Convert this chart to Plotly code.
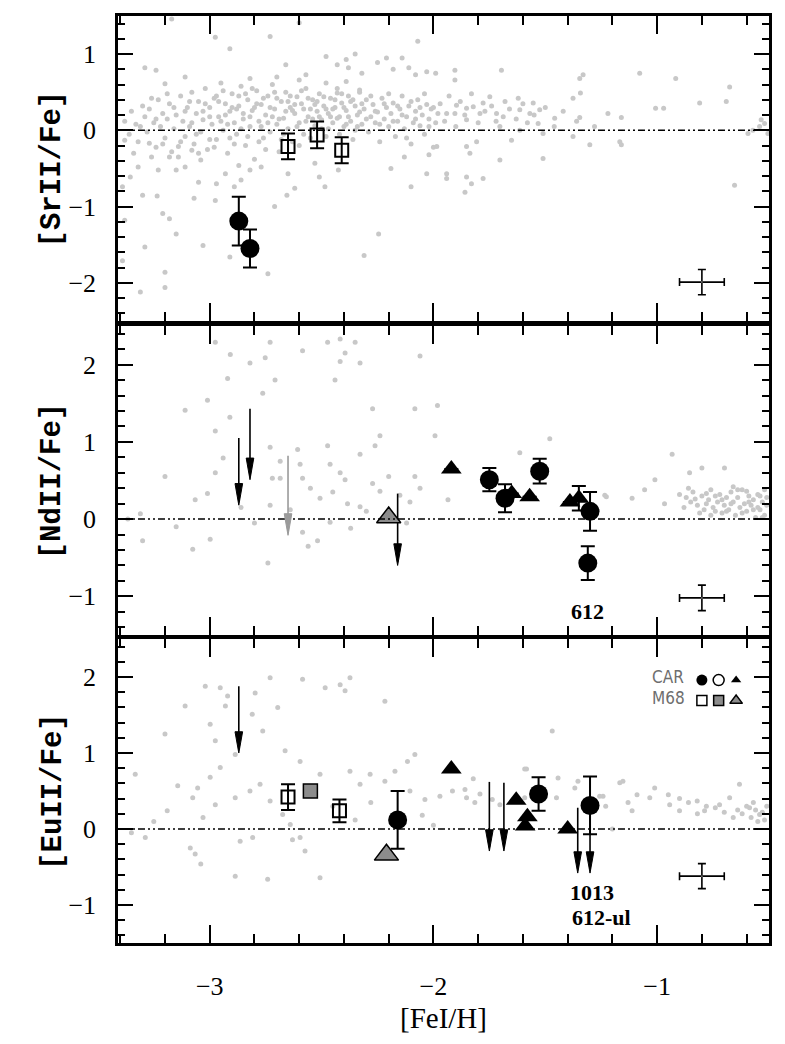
import plotly.graph_objects as go

# ======================= DATA =======================
# ---- literature (gray) stars : [SrII/Fe] panel ----
sr_bg = [
    (-3.38, 0.12), (-3.36, -0.05), (-3.35, 0.25), (-3.33, 0.08), (-3.32, -0.15), (-3.30, 0.32), (-3.29, 0.18),
    (-3.28, -0.02), (-3.27, 0.28), (-3.25, 0.10), (-3.24, -0.22), (-3.23, 0.40), (-3.22, 0.05), (-3.21, 0.22),
    (-3.20, -0.10), (-3.19, 0.15), (-3.18, 0.35), (-3.17, -0.28), (-3.16, 0.02), (-3.15, 0.20), (-3.14, -0.35),
    (-3.13, 0.45), (-3.12, 0.12), (-3.11, -0.08), (-3.10, 0.30), (-3.09, 0.05), (-3.08, 0.50), (-3.07, -0.18),
    (-3.06, 0.22), (-3.05, 0.38), (-3.04, -0.02), (-3.03, 0.14), (-3.02, 0.55), (-3.01, -0.25), (-3.00, 0.30),
    (-2.99, 0.08), (-2.98, 0.42), (-2.97, -0.12), (-2.96, 0.18), (-2.95, 0.62), (-2.94, 0.00), (-2.93, 0.35),
    (-2.92, -0.30), (-2.91, 0.25), (-2.90, 0.48), (-2.89, 0.10), (-2.88, -0.05), (-2.87, 0.32), (-2.86, 0.58),
    (-2.85, 0.15), (-2.84, -0.20), (-2.83, 0.40), (-2.82, 0.05), (-2.81, 0.26), (-2.80, -0.38), (-2.79, 0.52),
    (-2.78, 0.12), (-2.77, 0.34), (-2.76, -0.10), (-2.75, 0.20), (-2.74, 0.45), (-2.73, -0.02), (-2.72, 0.60),
    (-2.71, 0.28), (-2.70, 0.08), (-2.69, -0.28), (-2.68, 0.38), (-2.67, 0.16), (-2.66, 0.50), (-2.65, 0.02),
    (-2.64, 0.30), (-2.63, -0.15), (-2.62, 0.22), (-2.61, 0.44), (-2.60, 0.10), (-2.59, 0.35), (-2.58, -0.05),
    (-2.57, 0.55), (-2.56, 0.18), (-2.55, 0.28), (-2.54, 0.40), (-2.53, 0.06), (-2.52, 0.25), (-2.51, 0.48),
    (-2.50, 0.14), (-2.49, 0.32), (-2.48, -0.08), (-2.47, 0.22), (-2.46, 0.42), (-2.45, 0.10), (-2.44, 0.30),
    (-2.43, 0.55), (-2.42, 0.18), (-2.41, 0.36), (-2.40, 0.05), (-2.39, 0.26), (-2.38, 0.45), (-2.37, 0.12),
    (-2.36, -0.12), (-2.35, 0.32), (-2.34, 0.20), (-2.33, 0.50), (-2.32, 0.08), (-2.31, 0.28), (-2.30, 0.40),
    (-2.29, -0.02), (-2.28, 0.18), (-2.27, 0.34), (-2.26, 0.10), (-2.25, 0.24), (-2.24, -0.15), (-2.23, 0.42),
    (-2.22, 0.15), (-2.21, 0.30), (-2.20, 0.05), (-2.19, 0.22), (-2.18, 0.36), (-2.17, -0.08), (-2.16, 0.12),
    (-2.15, 0.28), (-2.14, 0.45), (-2.13, 0.02), (-2.12, 0.18), (-2.11, 0.32), (-2.10, -0.18), (-2.09, 0.10),
    (-2.08, 0.25), (-2.07, 0.40), (-2.06, 0.06), (-2.05, 0.20), (-2.04, -0.05), (-2.03, 0.34), (-2.02, 0.15),
    (-2.01, 0.28), (-2.00, -0.22), (-1.99, 0.10), (-1.98, 0.22),
    (-3.09, 0.38), (-3.06, -0.05), (-3.03, 0.25), (-3.00, -0.12), (-2.97, 0.45), (-2.95, 0.12), (-2.93, 0.20),
    (-2.91, -0.10), (-2.88, 0.28), (-2.86, 0.02), (-2.84, 0.48), (-2.82, 0.18), (-2.80, 0.30), (-2.78, -0.15),
    (-2.76, 0.42), (-2.74, 0.10), (-2.71, 0.50), (-2.69, 0.15), (-2.67, -0.05), (-2.65, 0.38), (-2.63, 0.26),
    (-2.61, 0.05), (-2.59, 0.52), (-2.57, 0.12), (-2.55, -0.10), (-2.53, 0.34), (-2.51, 0.18), (-2.49, 0.44),
    (-2.47, 0.02), (-2.45, 0.28), (-2.43, 0.16), (-2.41, 0.48), (-2.39, 0.08), (-2.37, 0.38), (-2.35, 0.00),
    (-2.33, 0.24),
    (-3.31, 0.05), (-3.26, 0.42), (-3.24, 0.15), (-3.21, -0.18), (-3.19, 0.48), (-3.16, 0.30), (-3.13, -0.15),
    (-3.11, 0.25), (-3.08, 0.10), (-3.05, -0.30), (-3.02, 0.35), (-3.00, 0.18), (-2.98, -0.22), (-2.96, 0.38),
    (-2.94, 0.52), (-2.92, 0.08), (-2.90, 0.30), (-2.89, -0.18), (-2.87, 0.45), (-2.85, 0.22), (-2.83, -0.08),
    (-2.81, 0.55), (-2.79, 0.35), (-2.77, 0.05), (-2.75, -0.25), (-2.73, 0.30), (-2.72, 0.18), (-2.70, 0.42),
    (-2.68, -0.12), (-2.66, 0.25), (-2.64, 0.45), (-2.62, 0.34), (-2.60, -0.20), (-2.58, 0.28), (-2.56, 0.42),
    (-2.54, 0.15), (-2.52, 0.38), (-2.50, 0.02), (-2.48, 0.28), (-2.46, 0.18), (-2.44, 0.40), (-2.42, -0.05),
    (-2.40, 0.30), (-2.38, 0.18), (-2.36, 0.40), (-2.34, 0.05), (-2.32, 0.35), (-2.30, 0.15), (-2.28, 0.45),
    (-2.26, 0.25), (-2.24, 0.08), (-2.22, 0.35), (-2.20, 0.48), (-2.18, 0.12), (-2.16, 0.32), (-2.14, 0.20),
    (-2.12, -0.10), (-2.10, 0.38), (-2.08, 0.15), (-2.06, 0.30), (-2.04, 0.48), (-2.02, 0.05), (-2.00, 0.30),
    (-1.97, 0.35), (-1.95, 0.12), (-1.93, 0.45), (-1.90, 0.05), (-1.88, 0.38), (-1.86, 0.20), (-1.83, 0.48),
    (-1.80, 0.10), (-1.77, 0.25), (-1.74, 0.32), (-1.72, 0.12), (-1.68, 0.38), (-1.66, 0.28), (-1.63, 0.15),
    (-1.60, 0.35), (-1.58, 0.10), (-1.55, 0.20), (-1.50, 0.30), (-1.46, 0.05), (-1.42, 0.25), (-1.36, 0.12),
    (-1.28, 0.05),
    # sparse, below the solar line
    (-3.34, -0.30), (-3.32, -0.48), (-3.355, -0.61), (-3.30, -0.85), (-3.235, -0.86), (-3.21, -1.09),
    (-3.18, -1.16), (-3.15, -1.36), (-3.29, -1.53), (-3.20, -1.86), (-3.20, -2.06), (-3.31, -2.12),
    (-3.03, -1.51), (-3.07, -0.89), (-2.975, -0.92), (-2.91, -1.66), (-2.74, -1.88), (-2.71, -1.00),
    (-2.65, -0.57), (-2.62, -0.76), (-2.655, -0.85), (-2.53, -0.43), (-2.51, -0.61), (-2.485, -0.74),
    (-2.425, -0.52), (-2.245, -1.36), (-2.31, -1.64), (-2.19, -0.50), (-2.13, -0.35), (-2.10, -0.74),
    (-2.03, -0.57), (-2.02, -0.32), (-1.985, -0.21), (-2.97, -0.70), (-2.93, -0.57), (-2.89, -0.74),
    (-2.86, -0.65), (-2.82, -0.52), (-2.77, -0.48), (-2.87, -0.46), (-3.05, -0.68), (-3.04, -0.39),
    (-3.11, -0.48), (-3.15, -0.52), (-3.08, -0.26), (-3.14, -0.21), (-3.18, -0.35), (-3.23, -0.52),
    (-3.26, -0.35), (-3.27, -0.17), (-3.38, -0.13), (-3.39, -0.74), (-3.38, -1.18), (-3.39, -1.71),
    # sparse, above
    (-2.975, 1.22), (-2.91, 1.07), (-2.73, 1.23), (-3.17, 1.46), (-3.29, 0.82), (-3.24, 0.79), (-3.20, 0.61),
    (-3.11, 0.70), (-2.82, 0.68), (-2.66, 0.86), (-2.57, 0.73), (-2.48, 0.97), (-2.43, 0.86), (-2.39, 0.93),
    (-2.35, 1.00), (-2.38, 0.82), (-2.32, 0.75), (-2.25, 0.89), (-2.21, 0.95), (-2.18, 0.80), (-2.14, 0.95),
    (-2.11, 0.82), (-2.07, 1.17), (-2.08, 0.73), (-2.03, 0.77), (-1.99, 0.75), (-2.48, 0.62), (-2.43, 0.49),
    (-2.39, 0.64), (-2.33, 0.53), (-2.60, 0.66), (-2.70, 0.70), (-2.60, 1.41),
    # metal-rich side
    (-1.904, 0.79), (-1.904, 0.66), (-1.696, 0.79), (-1.331, 0.73), (-1.346, 0.68), (-1.078, 0.75),
    (-0.917, 0.68), (-0.676, 0.57), (-0.691, 0.38), (-0.81, 0.36), (-1.007, 0.29), (-0.971, 0.29),
    (-1.376, 0.42), (-1.343, 0.49), (-1.621, 0.42), (-1.614, 0.27), (-1.554, 0.36), (-1.525, 0.27),
    (-1.569, 0.22), (-1.748, 0.44), (-1.778, 0.36), (-1.822, 0.31), (-1.852, 0.29), (-1.897, 0.33),
    (-1.941, 0.22), (-1.904, 0.22), (-1.852, 0.14), (-1.792, 0.22), (-1.718, 0.22), (-1.688, 0.18),
    (-1.703, 0.05), (-1.651, -0.13), (-1.614, 0.00), (-1.532, 0.09), (-1.51, -0.04), (-1.458, 0.16),
    (-1.346, 0.17), (-1.22, 0.22), (-1.16, 0.17), (-1.376, -0.08), (-1.301, -0.19), (-1.167, -0.15),
    (-1.16, -0.19), (-1.51, -0.37), (-1.703, -0.39), (-1.852, -0.21), (-1.837, -0.30), (-1.807, -0.15),
    (-1.941, -0.57), (-1.941, -0.63), (-1.852, -0.61), (-1.83, -0.70), (-1.778, -0.63), (-1.859, -0.81),
    (-0.654, -0.72), (-0.542, 0.05), (-0.52, 0.09), (-0.572, 0.00), (-0.505, -0.04), (-0.594, -0.04),
    (-0.535, 0.14),
]

# ---- literature (gray) stars : [NdII/Fe] panel ----
nd_bg = [
    (-2.975, 2.29), (-2.908, 2.13), (-2.92, 1.82), (-3.01, 1.54), (-3.11, 1.41), (-2.91, 1.32), (-2.975, 1.14),
    (-2.94, 0.79), (-2.975, 0.60), (-3.01, 0.33), (-3.065, 0.25), (-3.076, -0.39), (-2.998, -0.26),
    (-3.30, -0.28), (-3.31, 0.07), (-3.366, 0.00), (-2.82, 2.02), (-2.73, 2.29), (-2.752, 2.09), (-2.763, 1.63),
    (-2.708, 1.80), (-2.73, 0.93), (-2.607, 0.90), (-2.685, 0.75), (-2.72, 0.53), (-2.73, 0.18), (-2.685, 0.53),
    (-2.596, 0.71), (-2.585, 0.53), (-2.55, 0.40), (-2.507, 0.27), (-2.585, -0.17), (-2.56, -0.35),
    (-2.518, -0.28), (-2.74, -0.57), (-2.585, 2.18), (-2.473, 2.29), (-2.417, 2.33), (-2.35, 2.29),
    (-2.395, 2.15), (-2.417, 2.04), (-2.328, 2.02), (-2.44, 1.80), (-2.473, 0.95), (-2.462, 0.71),
    (-2.417, 0.60), (-2.395, 0.51), (-2.384, 0.20), (-2.462, -0.04), (-2.328, 0.16), (-2.328, 0.84),
    (-2.272, 1.43), (-2.239, 1.08), (-2.261, 0.95), (-2.239, 0.36), (-2.272, 0.46), (-2.06, 2.11),
    (-2.083, 1.43), (-1.982, 1.47), (-1.993, 1.08), (-2.083, 0.55), (-2.06, 0.40), (-2.105, 0.22),
    (-2.15, 0.31), (-1.614, 0.86), (-1.48, 1.04), (-1.234, 0.31), (-1.112, 0.27), (-1.056, 0.38),
    (-1.01, 0.51), (-0.967, 0.20), (-0.933, 0.84), (-0.855, 0.60), (-0.80, 0.66), (-0.699, 0.66),
    (-1.935, 0.25), (-1.227, 0.29), (-3.20, 0.55), (-3.15, -0.10), (-2.86, 0.15), (-2.80, -0.05),
    (-2.64, 0.12), (-2.45, 0.35), (-2.37, -0.12), (-2.30, 0.10), (-2.20, 0.55), (-2.12, -0.05),
    (-0.87, 0.28), (-0.85, 0.22), (-0.84, 0.35), (-0.82, 0.18), (-0.80, 0.30), (-0.79, 0.12), (-0.77, 0.25),
    (-0.76, 0.38), (-0.75, 0.15), (-0.73, 0.22), (-0.72, 0.32), (-0.71, 0.08), (-0.70, 0.18), (-0.69, 0.28),
    (-0.68, 0.12), (-0.67, 0.35), (-0.66, 0.22), (-0.65, 0.05), (-0.64, 0.28), (-0.63, 0.15), (-0.62, 0.38),
    (-0.61, 0.20), (-0.60, 0.10), (-0.59, 0.30), (-0.58, 0.18), (-0.57, 0.25), (-0.56, 0.02), (-0.55, 0.32),
    (-0.54, 0.12), (-0.53, 0.22), (-0.52, 0.05), (-0.51, 0.28), (-0.86, 0.40), (-0.78, 0.20), (-0.74, 0.10),
    (-0.66, 0.42), (-0.60, 0.36), (-0.55, 0.15), (-0.52, 0.38), (-0.88, 0.15), (-0.83, 0.26), (-0.81, 0.08),
    (-0.78, 0.33), (-0.76, 0.05), (-0.74, 0.30), (-0.71, 0.25), (-0.69, 0.10), (-0.67, 0.20), (-0.64, 0.38),
    (-0.62, 0.08), (-0.59, 0.22), (-0.57, 0.12), (-0.54, 0.30), (-0.53, 0.02), (-0.51, 0.18), (-0.90, 0.32),
]

# ---- literature (gray) stars : [EuII/Fe] panel ----
eu_bg = [
    (-3.02, 1.88), (-2.953, 1.86), (-2.92, 1.75), (-2.73, 1.99), (-2.797, 1.79), (-2.585, 1.97), (-2.484, 1.86),
    (-2.417, 1.90), (-2.373, 1.99), (-2.395, 1.82), (-2.217, 1.68), (-3.11, 1.62), (-3.20, 1.25), (-2.93, 1.62),
    (-2.81, 1.51), (-2.763, 1.29), (-2.696, 1.60), (-2.998, 1.38), (-2.975, 1.16), (-2.886, 0.98),
    (-2.953, 0.81), (-2.998, 0.68), (-3.054, 0.54), (-3.333, 0.72), (-3.143, 0.57), (-3.076, 0.41),
    (-3.19, 0.24), (-3.03, 0.15), (-2.975, 0.32), (-2.886, 0.41), (-2.82, 0.50), (-2.775, 0.59), (-2.73, 0.37),
    (-2.674, 0.19), (-2.64, 0.06), (-2.596, -0.11), (-2.886, -0.62), (-2.741, -0.66), (-2.507, -0.64),
    (-3.04, -0.46), (-3.087, -0.25), (-3.065, -0.33), (-3.288, -0.11), (-2.864, -0.16), (-2.808, -0.11),
    (-2.63, -0.14), (-2.574, -0.29), (-2.663, 1.03), (-2.596, 0.89), (-2.507, 0.72), (-2.373, 0.76),
    (-2.328, 0.59), (-2.283, 0.72), (-2.217, 0.63), (-2.172, 0.76), (-2.116, 0.89), (-2.083, 0.98),
    (-2.105, 0.50), (-2.038, 0.39), (-1.971, 0.43), (-1.915, 0.50), (-1.859, 0.52), (-1.792, 0.46),
    (-1.737, 0.39), (-1.703, 0.32), (-1.592, 0.41), (-1.525, 0.54), (-1.469, 1.29), (-1.592, 0.79),
    (-1.368, 0.54), (-1.257, 0.43), (-1.167, 0.61), (-1.112, 0.24), (-1.033, 0.41), (-1.011, 0.54),
    (-0.944, 0.32), (-0.90, 0.24), (-0.821, 0.37), (-0.788, 0.24), (-0.721, 0.32), (-0.676, 0.41),
    (-0.632, 0.59), (-0.587, 0.28), (-0.542, 0.19),
    (-1.822, 0.66), (-1.852, 0.41), (-1.815, 0.35), (-1.584, 0.79), (-1.443, 0.67), (-1.45, 0.41),
    (-1.354, 0.63), (-1.242, 0.43), (-1.23, 0.30), (-1.153, 0.63), (-1.13, 0.35), (-1.09, 0.45), (-1.20, 0.00),
    (-2.45, 0.30), (-2.35, 0.12), (-2.28, 0.35), (-2.05, 0.18), (-2.00, 0.05), (-3.25, 0.10), (-3.35, -0.05),
    (-0.62, 0.20), (-0.60, 0.30), (-0.58, 0.15), (-0.56, 0.25), (-0.55, 0.10), (-0.53, 0.22), (-0.52, 0.12),
    (-0.51, 0.30), (-0.57, 0.35), (-0.64, 0.25), (-0.66, 0.15), (-0.70, 0.22), (-0.74, 0.28), (-0.78, 0.30),
    (-0.82, 0.20), (-0.86, 0.35), (-0.90, 0.40), (-0.95, 0.45),
]

# ---- Carina (CAR) and M68 measurements ----
sr_car_circ_x = [-2.87, -2.82]
sr_car_circ_y = [-1.19, -1.55]
sr_car_circ_err = [0.32, 0.25]
sr_m68_sq_x = [-2.65, -2.52, -2.41]
sr_m68_sq_y = [-0.21, -0.06, -0.26]
sr_m68_sq_err = [0.17, 0.175, 0.17]

nd_car_circ_x = [-1.75, -1.68, -1.525, -1.30, -1.31]
nd_car_circ_y = [0.51, 0.27, 0.62, 0.10, -0.57]
nd_car_circ_err = [0.15, 0.18, 0.16, 0.25, 0.22]
nd_car_tri_x = [-1.92, -1.65, -1.57, -1.39, -1.35]
nd_car_tri_y = [0.65, 0.33, 0.29, 0.22, 0.27]
nd_car_tri_err = [0.0, 0.0, 0.0, 0.0, 0.16]
nd_car_ul_x = [-2.87, -2.82, -2.16]
nd_car_ul_top = [1.05, 1.43, 0.33]
nd_car_ul_tip = [0.18, 0.51, -0.60]
nd_m68_ul_x = [-2.65]
nd_m68_ul_top = [0.82]
nd_m68_ul_tip = [-0.21]
nd_m68_tri_x = [-2.20]
nd_m68_tri_y = [0.02]

eu_car_circ_x = [-2.16, -1.53, -1.30]
eu_car_circ_y = [0.12, 0.46, 0.31]
eu_car_circ_err = [0.38, 0.22, 0.38]
eu_car_tri_x = [-1.92, -1.63, -1.58, -1.59, -1.40]
eu_car_tri_y = [0.79, 0.38, 0.16, 0.04, 0.00]
eu_car_ul_x = [-2.87, -1.75, -1.685, -1.355, -1.30]
eu_car_ul_top = [1.88, 0.62, 0.61, 0.28, 0.30]
eu_car_ul_tip = [1.00, -0.29, -0.29, -0.58, -0.58]
eu_m68_sq_x = [-2.65, -2.42]
eu_m68_sq_y = [0.42, 0.24]
eu_m68_sq_err = [0.17, 0.15]
eu_m68_gsq_x = [-2.55]
eu_m68_gsq_y = [0.50]
eu_m68_tri_x = [-2.21]
eu_m68_tri_y = [-0.34]

# typical error bars
typ_x = [-0.80]
typ_y = {"sr": -1.99, "nd": -1.02, "eu": -0.62}
typ_xerr = [0.10]
typ_yerr = [0.165]

# star labels
nd_labels = [(-1.31, -1.20, "612")]
eu_labels = [(-1.29, -0.84, "1013"), (-1.25, -1.17, "612-ul")]

# axes
x_range = [-3.41, -0.5]
y_ranges = {"sr": [-2.5, 1.5], "nd": [-1.5, 2.5], "eu": [-1.5, 2.5]}
y_titles = {"sr": "[SrII/Fe]", "nd": "[NdII/Fe]", "eu": "[EuII/Fe]"}
x_title = "[FeI/H]"

# ======================= STYLE =======================
GRAY_BG = "#c8c8c8"
MID_GRAY = "#8c8c8c"
SERIF = "Liberation Serif, Times New Roman, serif"
MONO = "Liberation Mono, Courier New, monospace"
NARROW = "Liberation Sans Narrow, DejaVu Sans Condensed, Arial Narrow, sans-serif"

panels = ["sr", "nd", "eu"]
axis_ids = {"sr": ("x", "y"), "nd": ("x2", "y2"), "eu": ("x3", "y3")}
domains = {"sr": [0.6710, 1.0], "nd": [0.3323, 0.6656], "eu": [0.0, 0.3279]}

fig = go.Figure()


def ax(p):
    return dict(xaxis=axis_ids[p][0], yaxis=axis_ids[p][1])


def err(arr, w=7, th=2, color="black"):
    return dict(type="data", array=arr, visible=True, width=w, thickness=th, color=color)


bgs = {"sr": sr_bg, "nd": nd_bg, "eu": eu_bg}
for p in panels:
    fig.add_trace(go.Scatter(
        x=[a for a, b in bgs[p]], y=[b for a, b in bgs[p]], mode="markers",
        marker=dict(size=5, color=GRAY_BG, line=dict(width=0)), showlegend=False, **ax(p)))

shapes = []
# solar reference lines
for p in panels:
    shapes.append(dict(type="line", xref=axis_ids[p][0] + " domain", yref=axis_ids[p][1],
                       x0=0, x1=1, y0=0, y1=0,
                       line=dict(color="black", width=1.5, dash="7px,3px,2px,3px,2px,3px")))

# upper limits (line + elongated arrowhead)
HEAD_W = 0.017
HEAD_H = 0.28


def upper_limits(p, xs, tops, tips, color):
    lx, ly = [], []
    for x, t, b in zip(xs, tops, tips):
        lx += [x, x, None]
        ly += [t, b + 0.05, None]
        shapes.append(dict(type="path", xref=axis_ids[p][0], yref=axis_ids[p][1],
                           path=f"M {x - HEAD_W},{b + HEAD_H} L {x + HEAD_W},{b + HEAD_H} L {x},{b} Z",
                           fillcolor=color, line=dict(color=color, width=1), layer="above"))
    fig.add_trace(go.Scatter(x=lx, y=ly, mode="lines", line=dict(color=color, width=1.6),
                             showlegend=False, **ax(p)))


upper_limits("nd", nd_m68_ul_x, nd_m68_ul_top, nd_m68_ul_tip, "#9a9a9a")
upper_limits("nd", nd_car_ul_x, nd_car_ul_top, nd_car_ul_tip, "black")
upper_limits("eu", eu_car_ul_x, eu_car_ul_top, eu_car_ul_tip, "black")

# typical error bars
for p in panels:
    fig.add_trace(go.Scatter(x=typ_x, y=[typ_y[p]], mode="markers",
                             marker=dict(size=2, color="#666"),
                             error_x=err(typ_xerr, w=4, th=1.6), error_y=err(typ_yerr, w=4, th=1.6),
                             showlegend=False, **ax(p)))

# M68 open squares
fig.add_trace(go.Scatter(x=sr_m68_sq_x, y=sr_m68_sq_y, mode="markers",
                         marker=dict(symbol="square-open", size=13, color="black", line=dict(width=2)),
                         error_y=err(sr_m68_sq_err), showlegend=False, **ax("sr")))
fig.add_trace(go.Scatter(x=eu_m68_sq_x, y=eu_m68_sq_y, mode="markers",
                         marker=dict(symbol="square-open", size=13, color="black", line=dict(width=2)),
                         error_y=err(eu_m68_sq_err), showlegend=False, **ax("eu")))
# M68 gray filled square
fig.add_trace(go.Scatter(x=eu_m68_gsq_x, y=eu_m68_gsq_y, mode="markers",
                         marker=dict(symbol="square", size=14, color=MID_GRAY, line=dict(width=1.5, color="black")),
                         showlegend=False, **ax("eu")))
# M68 gray triangles
fig.add_trace(go.Scatter(x=nd_m68_tri_x, y=nd_m68_tri_y, mode="markers",
                         marker=dict(symbol="triangle-up", size=21, color=MID_GRAY, line=dict(width=1.5, color="black")),
                         showlegend=False, **ax("nd")))
fig.add_trace(go.Scatter(x=eu_m68_tri_x, y=eu_m68_tri_y, mode="markers",
                         marker=dict(symbol="triangle-up", size=21, color=MID_GRAY, line=dict(width=1.5, color="black")),
                         showlegend=False, **ax("eu")))

# CAR filled triangles
fig.add_trace(go.Scatter(x=nd_car_tri_x, y=nd_car_tri_y, mode="markers",
                         marker=dict(symbol="triangle-up", size=18, color="black"),
                         error_y=err(nd_car_tri_err), showlegend=False, **ax("nd")))
fig.add_trace(go.Scatter(x=eu_car_tri_x, y=eu_car_tri_y, mode="markers",
                         marker=dict(symbol="triangle-up", size=18, color="black"),
                         showlegend=False, **ax("eu")))

# CAR filled circles
for p, xs, ys, es in [("sr", sr_car_circ_x, sr_car_circ_y, sr_car_circ_err),
                      ("nd", nd_car_circ_x, nd_car_circ_y, nd_car_circ_err),
                      ("eu", eu_car_circ_x, eu_car_circ_y, eu_car_circ_err)]:
    fig.add_trace(go.Scatter(x=xs, y=ys, mode="markers",
                             marker=dict(symbol="circle", size=19, color="black"),
                             error_y=err(es), showlegend=False, **ax(p)))

# ---- legend (drawn inside the Eu panel) ----
LEG_X = [-0.80, -0.725, -0.647]
LEG_Y = [1.96, 1.69]
leg_rows = [
    [dict(symbol="circle", size=11, color="black"),
     dict(symbol="circle-open", size=11, color="black", line=dict(width=1.5)),
     dict(symbol="triangle-up", size=9, color="black")],
    [dict(symbol="square-open", size=10, color="black", line=dict(width=1.5)),
     dict(symbol="square", size=10, color=MID_GRAY, line=dict(width=1.5, color="black")),
     dict(symbol="triangle-up", size=11, color=MID_GRAY, line=dict(width=1.5, color="black"))],
]
for row, yy in zip(leg_rows, LEG_Y):
    for mk, xx in zip(row, LEG_X):
        fig.add_trace(go.Scatter(x=[xx], y=[yy], mode="markers", marker=mk, showlegend=False, **ax("eu")))

annotations = []
for txt, yy in zip(["CAR", "M68"], [2.0, 1.73]):
    annotations.append(dict(x=-0.95, y=yy, xref="x3", yref="y3", text=txt, showarrow=False,
                            font=dict(family=NARROW, size=17, color="#6e6e6e"), xanchor="center", yanchor="middle"))

for p, labs in [("nd", nd_labels), ("eu", eu_labels)]:
    for (lx, ly, t) in labs:
        annotations.append(dict(x=lx, y=ly, xref=axis_ids[p][0], yref=axis_ids[p][1], text=f"<b>{t}</b>",
                                showarrow=False, font=dict(family=SERIF, size=22, color="black"),
                                xanchor="center", yanchor="middle"))

# axis titles
for p in panels:
    d = domains[p]
    annotations.append(dict(x=-0.1, y=(d[0] + d[1]) / 2, xref="paper", yref="paper",
                            text=f"<b>{y_titles[p]}</b>", textangle=-90, showarrow=False,
                            font=dict(family=MONO, size=29, color="black"),
                            xanchor="center", yanchor="middle"))
annotations.append(dict(x=0.5, y=-0.081, xref="paper", yref="paper", text=x_title, showarrow=False,
                        font=dict(family=SERIF, size=29, color="black"), xanchor="center", yanchor="middle"))

layout = dict(
    width=785, height=1044,
    margin=dict(l=118, r=16, t=16, b=101),
    paper_bgcolor="white", plot_bgcolor="white",
    showlegend=False, shapes=shapes, annotations=annotations,
)

for p in panels:
    xa, ya = axis_ids[p]
    xname = "xaxis" if xa == "x" else "xaxis" + xa[1:]
    yname = "yaxis" if ya == "y" else "yaxis" + ya[1:]
    layout[xname] = dict(
        range=x_range, domain=[0, 1], anchor=ya, showgrid=False, zeroline=False,
        showline=True, linecolor="black", linewidth=2.5, mirror="ticks",
        ticks="inside", ticklen=18, tickwidth=2, tickcolor="black", dtick=1, tick0=0,
        minor=dict(ticks="inside", dtick=0.2, tick0=0, ticklen=9, tickwidth=1.6, tickcolor="black", showgrid=False),
        showticklabels=(p == "eu"), ticklabelstandoff=18,
        tickfont=dict(family=SERIF, size=26, color="black"),
    )
    if xa != "x":
        layout[xname]["matches"] = "x"
    layout[yname] = dict(
        range=y_ranges[p], domain=domains[p], anchor=xa, showgrid=False, zeroline=False,
        showline=True, linecolor="black", linewidth=2.5, mirror="ticks",
        ticks="inside", ticklen=15, tickwidth=2, tickcolor="black", dtick=1, tick0=0,
        minor=dict(ticks="inside", dtick=0.2, tick0=0, ticklen=7, tickwidth=1.6, tickcolor="black", showgrid=False),
        ticklabelstandoff=14,
        tickfont=dict(family=SERIF, size=26, color="black"),
    )

fig.update_layout(**layout)
fig.write_html("out.html")
